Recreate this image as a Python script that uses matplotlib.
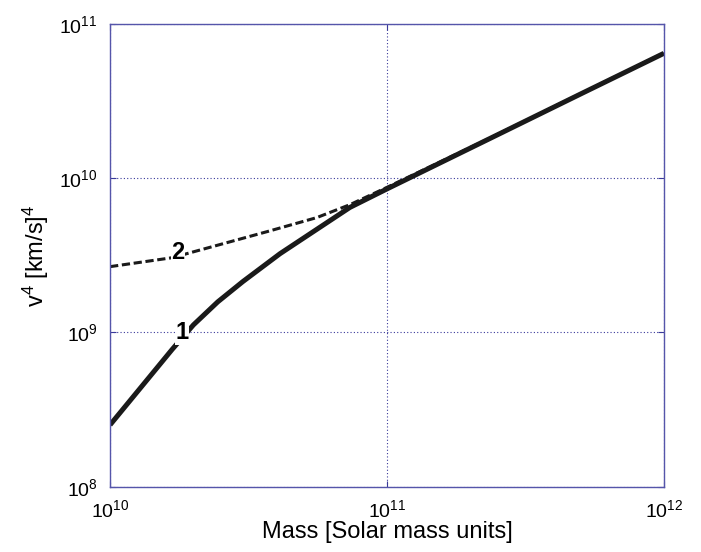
import matplotlib.pyplot as plt
import numpy as np

plt.rcParams['font.family'] = ['Liberation Sans', 'DejaVu Sans']
plt.rcParams['mathtext.default'] = 'regular'

# Data (log-log)
mass = [1e10, 1.675e10, 2.0e10, 2.45e10, 3.02e10, 4.11e10, 7.35e10,
        1e11, 2.51e11, 5.01e11, 1e12]
v4_curve1 = [2.52e8, 7.76e8, 1.12e9, 1.58e9, 2.14e9, 3.24e9, 6.46e9,
             8.51e9, 1.91e10, 3.51e10, 6.43e10]

mass2 = [1e10, 1.675e10, 2.0e10, 3.69e10, 5.58e10, 7.35e10,
         1e11, 2.51e11, 5.01e11, 1e12]
v4_curve2 = [2.67e9, 3.05e9, 3.33e9, 4.50e9, 5.55e9, 6.73e9,
             8.71e9, 1.92e10, 3.52e10, 6.45e10]

grid_col = '#3a3a9a'

fig = plt.figure(figsize=(7.01, 5.52), dpi=100)
ax = fig.add_axes([0.157, 0.118, 0.790, 0.839])

ax.plot(mass, v4_curve1, color='#1a1a1a', lw=3.6, solid_capstyle='butt',
        solid_joinstyle='round')
ax.plot(mass2, v4_curve2, color='#1a1a1a', lw=2.2, linestyle=(0, (2.7, 1.2)))

ax.set_xscale('log')
ax.set_yscale('log')
ax.set_xlim(1e10, 1e12)
ax.set_ylim(1e8, 1e11)
ax.minorticks_off()

ax.grid(True, which='major', linestyle=(0, (1, 2)), color=grid_col, lw=0.8)
for s in ax.spines.values():
    s.set_color('#5555aa')
    s.set_linewidth(1.0)
ax.tick_params(direction='in', length=4, color=grid_col, labelsize=14,
               top=True, right=True)
ax.tick_params(axis='x', pad=9)
ax.tick_params(axis='y', pad=9)

ax.text(1.82e10, 1.0e9, '1', fontsize=17, fontweight='bold', ha='center',
        va='center', bbox=dict(facecolor='white', edgecolor='none', pad=0.5))
ax.text(1.76e10, 3.3e9, '2', fontsize=17, fontweight='bold', ha='center',
        va='center', bbox=dict(facecolor='white', edgecolor='none', pad=0.5))

ax.set_xlabel('Mass [Solar mass units]', fontsize=17, labelpad=0)
ax.set_ylabel('v$^4$ [km/s]$^4$', fontsize=17, labelpad=6)

fig.savefig('out.png', dpi=100)
